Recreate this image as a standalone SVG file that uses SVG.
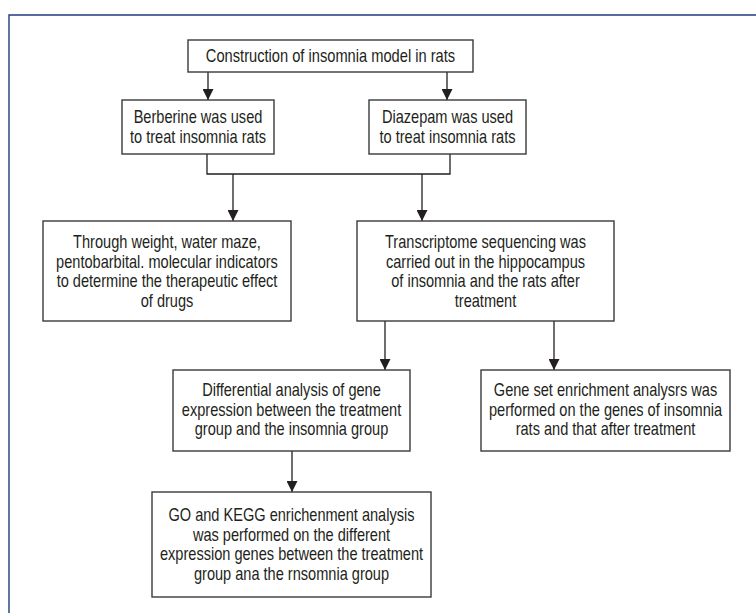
<svg xmlns="http://www.w3.org/2000/svg" width="756" height="613" viewBox="0 0 756 613">
<style>
.box{fill:#fff;stroke:#3a3a3a;stroke-width:1.4}
.t{font-family:"Liberation Sans",Arial,sans-serif;font-size:18px;fill:#231f20;text-anchor:middle}
.c{fill:none;stroke:#231f20;stroke-width:1.3}
.frame{fill:none;stroke:#1f3d7a;stroke-width:1.4}
</style>
<defs>
<marker id="ah" markerUnits="userSpaceOnUse" markerWidth="12" markerHeight="11" refX="11" refY="5.5" orient="auto">
<path d="M0,0 L11,5.5 L0,11 z" fill="#231f20"/>
</marker>
</defs>
<rect width="756" height="613" fill="#fff"/>
<path class="frame" d="M9,613 V15 H756"/>
<g id="connectors">
<line class="c" x1="208" y1="72" x2="208" y2="100" marker-end="url(#ah)"/>
<line class="c" x1="447" y1="72" x2="447" y2="100" marker-end="url(#ah)"/>
<polyline class="c" points="207,154 207,174 450,174 450,154"/>
<line class="c" x1="233" y1="174" x2="233" y2="221" marker-end="url(#ah)"/>
<line class="c" x1="422" y1="174" x2="422" y2="221" marker-end="url(#ah)"/>
<line class="c" x1="385" y1="321" x2="385" y2="370" marker-end="url(#ah)"/>
<line class="c" x1="554" y1="321" x2="554" y2="370" marker-end="url(#ah)"/>
<line class="c" x1="292" y1="451" x2="292" y2="492" marker-end="url(#ah)"/>
</g>
<g id="construction">
<rect class="box" x="188" y="40" width="285" height="32"/>
<g transform="translate(330.5 0) scale(0.815 1)">
<text class="t" x="0" y="62.5">Construction of insomnia model in rats</text>
</g>
</g>
<g id="berberine">
<rect class="box" x="122" y="100" width="152" height="54"/>
<g transform="translate(198 0) scale(0.81 1)">
<text class="t" x="0" y="123.5">Berberine was used</text>
<text class="t" x="0" y="143.5">to treat insomnia rats</text>
</g>
</g>
<g id="diazepam">
<rect class="box" x="369" y="100" width="157" height="54"/>
<g transform="translate(447.5 0) scale(0.81 1)">
<text class="t" x="0" y="123.5">Diazepam was used</text>
<text class="t" x="0" y="143.5">to treat insomnia rats</text>
</g>
</g>
<g id="through">
<rect class="box" x="43" y="221" width="248" height="100"/>
<g transform="translate(167 0) scale(0.81 1)">
<text class="t" x="0" y="248.5">Through weight, water maze,</text>
<text class="t" x="0" y="268">pentobarbital. molecular indicators</text>
<text class="t" x="0" y="287.5">to determine the therapeutic effect</text>
<text class="t" x="0" y="307">of drugs</text>
</g>
</g>
<g id="transcriptome">
<rect class="box" x="357" y="221" width="257" height="100"/>
<g transform="translate(485.5 0) scale(0.81 1)">
<text class="t" x="0" y="248.5">Transcriptome sequencing was</text>
<text class="t" x="0" y="268">carried out in the hippocampus</text>
<text class="t" x="0" y="287.5">of insomnia and the rats after</text>
<text class="t" x="0" y="307">treatment</text>
</g>
</g>
<g id="differential">
<rect class="box" x="173" y="370" width="237" height="81"/>
<g transform="translate(291.5 0) scale(0.81 1)">
<text class="t" x="0" y="396.5">Differential analysis of gene</text>
<text class="t" x="0" y="416">expression between the treatment</text>
<text class="t" x="0" y="435.5">group and the insomnia group</text>
</g>
</g>
<g id="geneset">
<rect class="box" x="481" y="370" width="249" height="81"/>
<g transform="translate(605.5 0) scale(0.81 1)">
<text class="t" x="0" y="396.5">Gene set enrichment analysrs was</text>
<text class="t" x="0" y="416">performed on the genes of insomnia</text>
<text class="t" x="0" y="435.5">rats and that after treatment</text>
</g>
</g>
<g id="go-kegg">
<rect class="box" x="152" y="492" width="279" height="105"/>
<g transform="translate(291.5 0) scale(0.81 1)">
<text class="t" x="0" y="521.5">GO and KEGG enrichenment analysis</text>
<text class="t" x="0" y="541">was performed on the different</text>
<text class="t" x="0" y="560.5">expression genes between the treatment</text>
<text class="t" x="0" y="580">group ana the rnsomnia group</text>
</g>
</g>
</svg>
